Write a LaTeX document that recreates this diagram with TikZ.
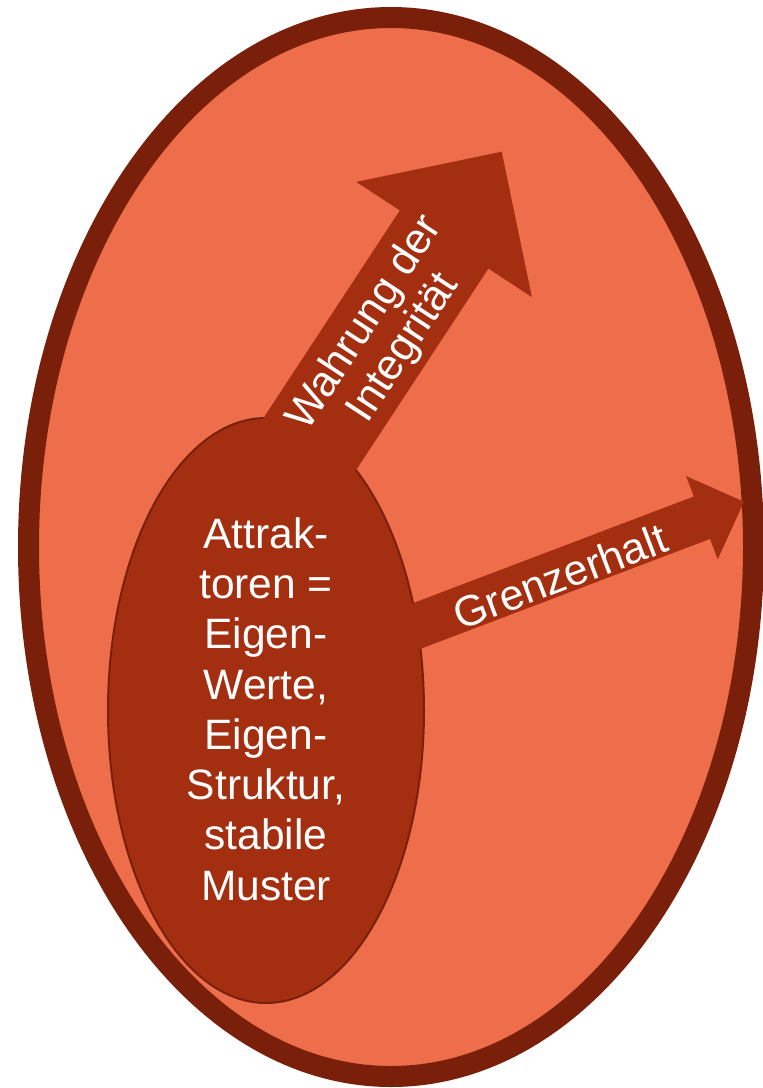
\documentclass[tikz,border=0pt]{standalone}
\usepackage{fontspec}
\setmainfont{Liberation Sans}
\definecolor{eggfill}{HTML}{EE6E4C}
\definecolor{eggborder}{HTML}{7A200A}
\definecolor{corefill}{HTML}{A42E10}
\tikzset{
  outeregg/.style={draw=eggborder, fill=eggfill, line width=21pt},
  coreegg/.style={draw=eggborder, fill=corefill, line width=2pt},
  blockarrow/.style={fill=corefill, draw=none},
  label/.style={text=white, inner sep=0pt, align=center, font=\fontsize{43}{46}\selectfont},
  corelabel/.style={text=white, inner sep=0pt, align=center, font=\fontsize{42.5}{50.3}\selectfont}
}
\begin{document}
\begin{tikzpicture}[x=1pt,y=-1pt]
\useasboundingbox (0,0) rectangle (763,1088);
% outer ellipse
\draw[outeregg] (391,547) ellipse [x radius=362.5pt, y radius=529.5pt];
% inner ellipse
\draw[coreegg] (266,710.5) ellipse [x radius=158pt, y radius=292.5pt];
\coordinate (core) at (266,710.5);
% arrow 1: Wahrung der Integritaet
\coordinate (a1s1) at (189.5,530.6);
\coordinate (a1s2) at (278.1,588.8);
\coordinate (a1r1) at (488.4,268.6);
\coordinate (a1b1) at (531.9,297.1);
\coordinate (a1tip) at (501.7,151.7);
\coordinate (a1b2) at (356.3,181.9);
\coordinate (a1r2) at (399.8,210.4);
\fill[blockarrow] (a1s1) -- (a1s2) -- (a1r1) -- (a1b1) -- (a1tip) -- (a1b2) -- (a1r2) -- cycle;
% arrow 2: Grenzerhalt
\coordinate (a2s1) at (291.7,649.2);
\coordinate (a2s2) at (307.9,691.6);
\coordinate (a2r1) at (710.0,538.9);
\coordinate (a2b1) at (717.7,559.3);
\coordinate (a2tip) at (744,501.7);
\coordinate (a2b2) at (686.1,476.1);
\coordinate (a2r2) at (693.8,496.5);
\fill[blockarrow] (a2s1) -- (a2s2) -- (a2r1) -- (a2b1) -- (a2tip) -- (a2b2) -- (a2r2) -- cycle;
% labels
\node[corelabel] (coretext) at (266,709) {Attrak-\\toren =\\Eigen-\\Werte,\\Eigen-\\Struktur,\\stabile\\Muster};
\node[label, rotate=56.7] (integ) at (385,336) {Wahrung der\\Integrität};
\node[label, rotate=20.8] (grenz) at (560,576) {Grenzerhalt};
\end{tikzpicture}
\end{document}
